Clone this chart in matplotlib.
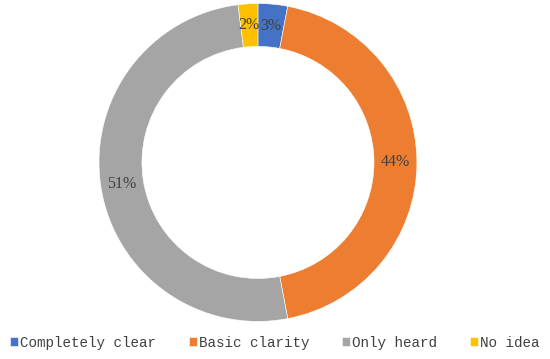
import matplotlib
matplotlib.use("Agg")
import matplotlib.pyplot as plt
import numpy as np

# data
labels = ["Completely clear", "Basic clarity", "Only heard", "No idea"]
values = [3, 44, 51, 2]
colors = ["#4472C4", "#ED7D31", "#A5A5A5", "#FFC000"]

fig = plt.figure(figsize=(5.5, 3.59), dpi=100)
ax = fig.add_axes([0.18, 0.1045, 0.578, 0.886])

wedges, texts = ax.pie(values, colors=colors, startangle=90, counterclock=False,
                       radius=1.0, wedgeprops=dict(width=0.27, edgecolor="white", linewidth=0.4))

# percent labels at the middle of the ring
ang = 90.0
for v, w in zip(values, wedges):
    mid = ang - v * 3.6 / 2
    ang -= v * 3.6
    r = 1.0 - 0.27 / 2
    ax.text(r * np.cos(np.radians(mid)), r * np.sin(np.radians(mid)), f"{v}%",
            ha="center", va="center", fontsize=11.5, color="#404040",
            family="Liberation Serif")

ax.set_xlim(-1, 1)
ax.set_ylim(-1, 1)
ax.set_aspect("equal")

leg = fig.legend(wedges, labels, loc="lower center", bbox_to_anchor=(0.5, -0.01),
                 ncol=4, frameon=False, handlelength=0.55, handleheight=0.55,
                 handletextpad=0.15, columnspacing=2.3,
                 prop={"family": "Liberation Mono", "size": 10.3})
for t in leg.get_texts():
    t.set_color("#404040")

fig.savefig("out.png", dpi=100)
